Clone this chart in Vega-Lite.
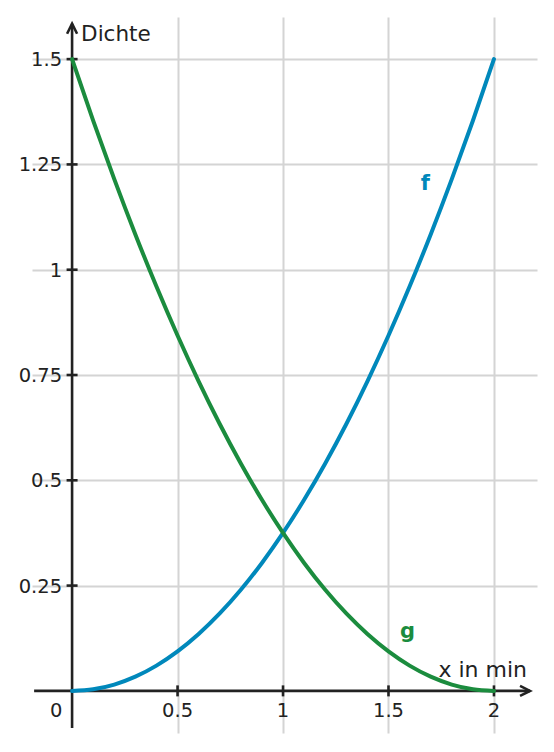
{
  "$schema": "https://vega.github.io/schema/vega-lite/v6.json",
  "width": 505,
  "height": 716,
  "autosize": "none",
  "padding": {"left": 32, "top": 17, "right": 17, "bottom": 19},
  "background": "white",
  "datasets": {
    "curves": [
      {"x": 0, "f": 0, "g": 1.5},
      {"x": 0.1, "f": 0.00375, "g": 1.35375},
      {"x": 0.2, "f": 0.015, "g": 1.215},
      {"x": 0.3, "f": 0.03375, "g": 1.08375},
      {"x": 0.4, "f": 0.06, "g": 0.96},
      {"x": 0.5, "f": 0.09375, "g": 0.84375},
      {"x": 0.6, "f": 0.135, "g": 0.735},
      {"x": 0.7, "f": 0.18375, "g": 0.63375},
      {"x": 0.8, "f": 0.24, "g": 0.54},
      {"x": 0.9, "f": 0.30375, "g": 0.45375},
      {"x": 1.0, "f": 0.375, "g": 0.375},
      {"x": 1.1, "f": 0.45375, "g": 0.30375},
      {"x": 1.2, "f": 0.54, "g": 0.24},
      {"x": 1.3, "f": 0.63375, "g": 0.18375},
      {"x": 1.4, "f": 0.735, "g": 0.135},
      {"x": 1.5, "f": 0.84375, "g": 0.09375},
      {"x": 1.6, "f": 0.96, "g": 0.06},
      {"x": 1.7, "f": 1.08375, "g": 0.03375},
      {"x": 1.8, "f": 1.215, "g": 0.015},
      {"x": 1.9, "f": 1.35375, "g": 0.00375},
      {"x": 2.0, "f": 1.5, "g": 0}
    ],
    "xticks": [
      {"x": 0.5, "y": 0, "label": "0.5"},
      {"x": 1, "y": 0, "label": "1"},
      {"x": 1.5, "y": 0, "label": "1.5"},
      {"x": 2, "y": 0, "label": "2"}
    ],
    "yticks": [
      {"x": 0, "y": 0.25, "label": "0.25"},
      {"x": 0, "y": 0.5, "label": "0.5"},
      {"x": 0, "y": 0.75, "label": "0.75"},
      {"x": 0, "y": 1, "label": "1"},
      {"x": 0, "y": 1.25, "label": "1.25"},
      {"x": 0, "y": 1.5, "label": "1.5"}
    ],
    "axes": [
      {"x": -0.18, "x2": 2.171, "y": 0, "y2": 0},
      {"x": 0, "x2": 0, "y": -0.088, "y2": 1.584}
    ]
  },
  "encoding": {
    "x": {
      "field": "x", "type": "quantitative",
      "scale": {"domain": [-0.19, 2.204], "nice": false, "zero": false},
      "axis": {"values": [0.5, 1, 1.5, 2], "grid": true, "labels": false, "ticks": false, "domain": false, "title": null}
    },
    "y": {
      "field": "y", "type": "quantitative",
      "scale": {"domain": [-0.1, 1.6], "nice": false, "zero": false},
      "axis": {"values": [0.25, 0.5, 0.75, 1, 1.25, 1.5], "grid": true, "labels": false, "ticks": false, "domain": false, "title": null}
    }
  },
  "layer": [
    {
      "data": {"name": "axes"},
      "mark": {"type": "rule", "color": "#222222", "strokeWidth": 2.6},
      "encoding": {"x2": {"field": "x2"}, "y2": {"field": "y2"}}
    },
    {
      "data": {"name": "xticks"},
      "mark": {"type": "tick", "orient": "vertical", "size": 11, "thickness": 2.6, "color": "#222222", "opacity": 1}
    },
    {
      "data": {"name": "yticks"},
      "mark": {"type": "tick", "orient": "horizontal", "size": 11, "thickness": 2.6, "color": "#222222", "opacity": 1}
    },
    {
      "data": {"values": [{"x": 0, "y": 1.584}]},
      "mark": {"type": "point", "shape": "M-0.5,1L0,0L0.5,1", "size": 400, "filled": false, "stroke": "#222222", "strokeWidth": 2.6, "opacity": 1}
    },
    {
      "data": {"values": [{"x": 2.171, "y": 0}]},
      "mark": {"type": "point", "shape": "M-1,-0.5L0,0L-1,0.5", "size": 400, "filled": false, "stroke": "#222222", "strokeWidth": 2.6, "opacity": 1}
    },
    {
      "data": {"name": "curves"},
      "mark": {"type": "line", "color": "#0088bb", "strokeWidth": 4, "interpolate": "monotone", "strokeCap": "round"},
      "encoding": {"y": {"field": "f", "type": "quantitative"}}
    },
    {
      "data": {"name": "curves"},
      "mark": {"type": "line", "color": "#1b8c3e", "strokeWidth": 4, "interpolate": "monotone", "strokeCap": "round"},
      "encoding": {"y": {"field": "g", "type": "quantitative"}}
    },
    {
      "data": {"name": "xticks"},
      "mark": {"type": "text", "font": "DejaVu Sans", "fontSize": 19.5, "color": "#222222", "align": "center", "baseline": "alphabetic", "dy": 26},
      "encoding": {"text": {"field": "label"}}
    },
    {
      "data": {"name": "yticks"},
      "mark": {"type": "text", "font": "DejaVu Sans", "fontSize": 19.5, "color": "#222222", "align": "right", "baseline": "alphabetic", "dx": -10, "dy": 7},
      "encoding": {"text": {"field": "label"}}
    },
    {
      "data": {"values": [{"x": 0, "y": 0, "label": "0"}]},
      "mark": {"type": "text", "font": "DejaVu Sans", "fontSize": 19.5, "color": "#222222", "align": "center", "baseline": "alphabetic", "dx": -16, "dy": 26},
      "encoding": {"text": {"field": "label"}}
    },
    {
      "data": {"values": [{"x": 0, "y": 1.584, "label": "Dichte"}]},
      "mark": {"type": "text", "font": "DejaVu Sans", "fontSize": 21.5, "color": "#222222", "align": "left", "baseline": "alphabetic", "dx": 9, "dy": 17},
      "encoding": {"text": {"field": "label"}}
    },
    {
      "data": {"values": [{"x": 2.171, "y": 0, "label": "x in min"}]},
      "mark": {"type": "text", "font": "DejaVu Sans", "fontSize": 22, "color": "#222222", "align": "right", "baseline": "alphabetic", "dx": -3, "dy": -14},
      "encoding": {"text": {"field": "label"}}
    },
    {
      "data": {"values": [{"x": 1.675, "y": 1.19, "label": "f"}]},
      "mark": {"type": "text", "font": "DejaVu Sans", "fontSize": 21, "fontWeight": "bold", "color": "#0088bb", "align": "center", "baseline": "alphabetic"},
      "encoding": {"text": {"field": "label"}}
    },
    {
      "data": {"values": [{"x": 1.59, "y": 0.125, "label": "g"}]},
      "mark": {"type": "text", "font": "DejaVu Sans", "fontSize": 21, "fontWeight": "bold", "color": "#1b8c3e", "align": "center", "baseline": "alphabetic"},
      "encoding": {"text": {"field": "label"}}
    }
  ],
  "config": {
    "view": {"stroke": null},
    "axis": {"gridColor": "#d4d4d4", "gridWidth": 2, "gridOpacity": 1}
  }
}
